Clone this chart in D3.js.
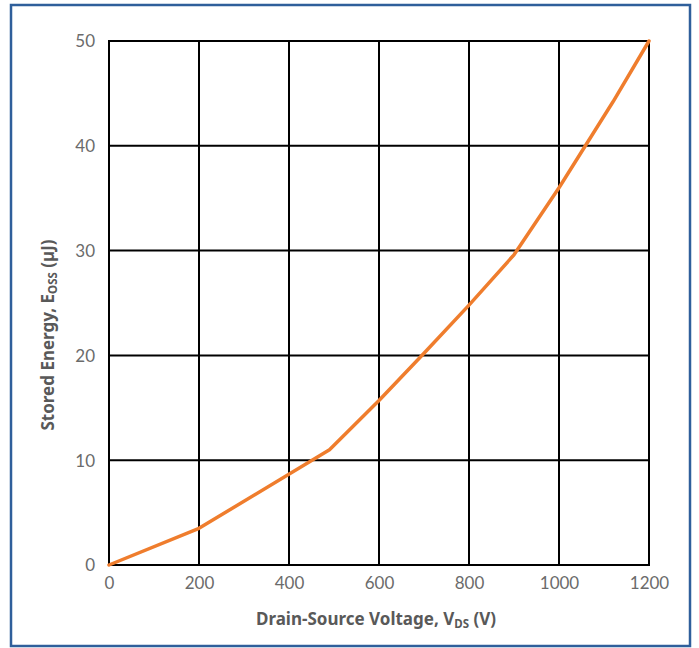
<!DOCTYPE html>
<html>
<head>
<meta charset="utf-8">
<script src="https://cdn.jsdelivr.net/npm/d3@7/dist/d3.min.js"></script>
<style>
  html, body { margin: 0; padding: 0; background: #fff; }
  svg { display: block; }
  text { font-family: Lato, "Noto Sans", sans-serif; }
  .title { font-family: "Noto Sans", "Open Sans", sans-serif; }
</style>
</head>
<body>
<svg id="chart" width="699" height="648"></svg>
<script>
// Output energy stored in the drain-source capacitance vs. voltage
const voltage = [0, 200, 490, 600, 700, 800, 900, 1000, 1120, 1200];
const energy  = [0, 3.5, 11.0, 15.7, 20.2, 24.8, 29.6, 36.0, 44.2, 50.0];

const xTicks = [0, 200, 400, 600, 800, 1000, 1200];
const yTicks = [0, 10, 20, 30, 40, 50];

const svg = d3.select("#chart");
const plot = { left: 109, right: 649, top: 41, bottom: 565 };

// outer frame
svg.append("rect")
  .attr("x", 11).attr("y", 5)
  .attr("width", 679).attr("height", 641)
  .attr("fill", "#fff")
  .attr("stroke", "#2F5F9B")
  .attr("stroke-width", 2.5);

const x = d3.scaleLinear().domain([0, 1200]).range([plot.left, plot.right]);
const y = d3.scaleLinear().domain([0, 50]).range([plot.bottom, plot.top]);

// grid
const grid = svg.append("g").attr("stroke", "#000").attr("stroke-width", 2);
grid.selectAll("line.v").data(xTicks).join("line")
  .attr("x1", d => x(d)).attr("x2", d => x(d))
  .attr("y1", plot.top).attr("y2", plot.bottom);
grid.selectAll("line.h").data(yTicks).join("line")
  .attr("x1", plot.left - 1).attr("x2", plot.right + 1)
  .attr("y1", d => y(d)).attr("y2", d => y(d));

// axes (labels only)
const xAxis = svg.append("g")
  .attr("transform", `translate(0,${plot.bottom + 9})`)
  .call(d3.axisBottom(x).tickValues(xTicks).tickSize(0).tickPadding(0).tickFormat(d3.format("d")));
xAxis.select(".domain").remove();
xAxis.selectAll("text")
  .attr("fill", "#6b6b6b").attr("font-size", 17).attr("dy", "0.9em");

const yAxis = svg.append("g")
  .attr("transform", `translate(${plot.left - 14},0)`)
  .call(d3.axisLeft(y).tickValues(yTicks).tickSize(0).tickPadding(0).tickFormat(d3.format("d")));
yAxis.select(".domain").remove();
yAxis.selectAll("text")
  .attr("fill", "#6b6b6b").attr("font-size", 17).attr("dy", "0.35em");

// data line
const line = d3.line().x((d, i) => x(voltage[i])).y(d => y(d));
svg.append("path")
  .datum(energy)
  .attr("fill", "none")
  .attr("stroke", "#EF7D2D")
  .attr("stroke-width", 3.5)
  .attr("stroke-linejoin", "round")
  .attr("stroke-linecap", "round")
  .attr("d", line);

// axis titles
const xt = svg.append("text")
  .attr("class", "title")
  .attr("x", 376).attr("y", 625)
  .attr("text-anchor", "middle")
  .attr("fill", "#595959")
  .attr("font-size", 17).attr("font-weight", "bold");
xt.append("tspan").text("Drain-Source Voltage, V");
xt.append("tspan").attr("font-size", 11.5).attr("dy", 3).text("DS");
xt.append("tspan").attr("dy", -3).text(" (V)");

const yt = svg.append("text")
  .attr("class", "title")
  .attr("transform", "translate(54,335) rotate(-90)")
  .attr("text-anchor", "middle")
  .attr("fill", "#595959")
  .attr("font-size", 17).attr("font-weight", "bold");
yt.append("tspan").text("Stored Energy, E");
yt.append("tspan").attr("font-size", 11.5).attr("dy", 3).text("OSS");
yt.append("tspan").attr("dy", -3).text(" (µJ)");
</script>
</body>
</html>
